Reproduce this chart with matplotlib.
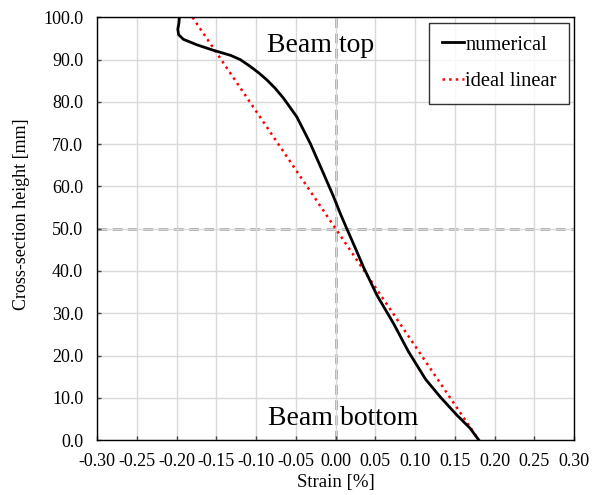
import numpy as np
import matplotlib.pyplot as plt
from matplotlib.ticker import FormatStrFormatter, MultipleLocator

plt.rcParams['font.family'] = ['Liberation Serif', 'DejaVu Serif']

# numerical strain profile (strain %, height mm)
num_strain = [-0.1965, -0.1972, -0.1985, -0.1975, -0.1915, -0.1745, -0.1537, -0.1320,
              -0.1200, -0.1075, -0.0970, -0.0865, -0.0760, -0.0657, -0.0490, -0.0320,
              -0.0154, -0.0027, 0.0060, 0.0140, 0.0266, 0.0350, 0.0518, 0.0727,
              0.0916, 0.1130, 0.1315, 0.1524, 0.1690, 0.1800]
num_height = [100.0, 98.5, 97.2, 95.9, 94.8, 93.5, 92.2, 91.0,
              90.0, 88.4, 86.9, 85.2, 83.2, 80.9, 76.5, 70.2,
              63.1, 57.6, 53.5, 50.0, 44.6, 40.9, 34.3, 27.6,
              20.9, 14.4, 10.2, 5.9, 2.8, 0.0]

# ideal linear profile
lin_strain = [-0.18, 0.0, 0.18]
lin_height = [100.0, 50.0, 0.0]

fig = plt.figure(figsize=(5.92, 4.95), dpi=100)
ax = fig.add_axes([0.164, 0.111, 0.806, 0.854])

ax.grid(True, color='#d9d9d9', linewidth=1.0, zorder=0)
ax.axvline(0.0, color='#a6a6a6', linestyle=(0, (3.5, 2)), linewidth=2.0, zorder=1)
ax.axhline(50.0, color='#a6a6a6', linestyle=(0, (3.5, 2)), linewidth=2.0, zorder=1)

ax.plot(num_strain, num_height, color='black', linewidth=2.0, label='numerical',
        zorder=3, solid_joinstyle='round')
ax.plot(lin_strain, lin_height, color='red', linestyle=':', linewidth=1.8,
        label='ideal linear', zorder=2)

ax.text(-0.0185, 93.3, 'Beam top', fontsize=20, ha='center', va='center')
ax.text(0.0094, 5.0, 'Beam bottom', fontsize=20, ha='center', va='center')

ax.set_xlim(-0.30, 0.30)
ax.set_ylim(0.0, 100.0)
ax.xaxis.set_major_locator(MultipleLocator(0.05))
ax.yaxis.set_major_locator(MultipleLocator(10))
ax.xaxis.set_major_formatter(FormatStrFormatter('%.2f'))
ax.yaxis.set_major_formatter(FormatStrFormatter('%.1f'))
ax.tick_params(direction='in', length=3, width=1, color='#404040', labelsize=13)
ax.tick_params(axis='x', pad=9)
ax.tick_params(axis='y', pad=10)
ax.set_xlabel('Strain [%]', fontsize=13.5)
ax.set_ylabel('Cross-section height [mm]', fontsize=13)
ax.xaxis.set_label_coords(0.501, -0.080)
ax.yaxis.set_label_coords(-0.140, 0.535)
for s in ax.spines.values():
    s.set_color('black')
    s.set_linewidth(1.0)

leg = ax.legend(loc='upper right', fontsize=14.8, frameon=True, fancybox=False,
                edgecolor='black', handlelength=1.1, handletextpad=0.05,
                borderpad=0.6, labelspacing=0.85, borderaxespad=0,
                bbox_to_anchor=(0.9895, 0.987))
leg.get_frame().set_linewidth(1.0)

fig.savefig('out.png', dpi=100)
